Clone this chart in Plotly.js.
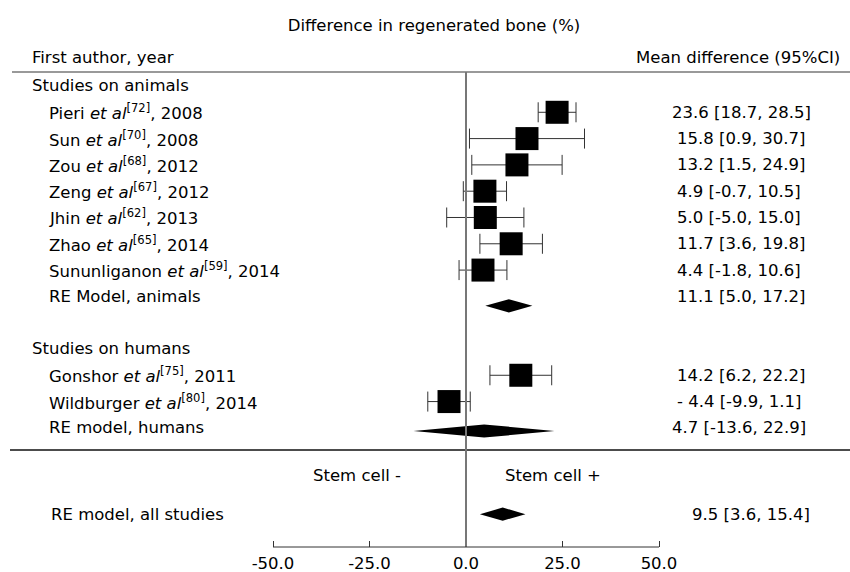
<!DOCTYPE html>
<html>
<head>
<meta charset="utf-8">
<script src="https://cdn.plot.ly/plotly-3.0.1.min.js"></script>
<style>html,body{margin:0;padding:0;background:#fff;}#chart{width:850px;height:572px;}</style>
</head>
<body>
<div id="chart"></div>
<script>
// ---- data ----
const studyLabels = [
  'Pieri <i>et al</i><sup>[72]</sup>, 2008',
  'Sun <i>et al</i><sup>[70]</sup>, 2008',
  'Zou <i>et al</i><sup>[68]</sup>, 2012',
  'Zeng <i>et al</i><sup>[67]</sup>, 2012',
  'Jhin <i>et al</i><sup>[62]</sup>, 2013',
  'Zhao <i>et al</i><sup>[65]</sup>, 2014',
  'Sununliganon <i>et al</i><sup>[59]</sup>, 2014',
  'Gonshor <i>et al</i><sup>[75]</sup>, 2011',
  'Wildburger <i>et al</i><sup>[80]</sup>, 2014'
];
const studyEst = [23.6, 15.8, 13.2, 4.9, 5.0, 11.7, 4.4, 14.2, -4.4];
const studyLo  = [18.7, 0.9, 1.5, -0.7, -5.0, 3.6, -1.8, 6.2, -9.9];
const studyHi  = [28.5, 30.7, 24.9, 10.5, 15.0, 19.8, 10.6, 22.2, 1.1];
const studyCI  = ['23.6 [18.7, 28.5]', '15.8 [0.9, 30.7]', '13.2 [1.5, 24.9]', '4.9 [-0.7, 10.5]',
                  '5.0 [-5.0, 15.0]', '11.7 [3.6, 19.8]', '4.4 [-1.8, 10.6]', '14.2 [6.2, 22.2]',
                  '- 4.4 [-9.9, 1.1]'];
const studyRows = [1, 2, 3, 4, 5, 6, 7, 11, 12];

const summaryLabels = ['RE Model, animals', 'RE model, humans', 'RE model, all studies'];
const summaryEst = [11.1, 4.7, 9.5];
const summaryLo  = [5.0, -13.6, 3.6];
const summaryHi  = [17.2, 22.9, 15.4];
const summaryCI  = ['11.1 [5.0, 17.2]', '4.7 [-13.6, 22.9]', '9.5 [3.6, 15.4]'];
const summaryRows = [8, 13, 16.3];
const summaryMarkRows = [8.36, 13.12, 16.28];

const groupLabels = ['Studies on animals', 'Studies on humans'];
const groupRows = [0, 10];

const tickVals = [-50, -25, 0, 25, 50];
const tickText = ['-50.0', '-25.0', '0.0', '25.0', '50.0'];

// ---- layout helpers ----
const W = 850;
const px = v => v / W;
const FONT = 'DejaVu Sans, Verdana, sans-serif';
const FS = 16.5;

const traces = [];
traces.push({
  type: 'scatter', mode: 'markers',
  x: studyEst, y: studyRows,
  marker: {symbol: 'square', size: 23, color: '#000', line: {width: 0}},
  error_x: {
    type: 'data', symmetric: false,
    array: studyHi.map((h, i) => h - studyEst[i]),
    arrayminus: studyLo.map((l, i) => studyEst[i] - l),
    color: '#333', thickness: 1, width: 10
  },
  hoverinfo: 'skip', showlegend: false
});
const dh = 0.25;
summaryEst.forEach((e, i) => {
  const r = summaryMarkRows[i];
  traces.push({
    type: 'scatter', mode: 'lines',
    x: [summaryLo[i], e, summaryHi[i], e, summaryLo[i]],
    y: [r, r - dh, r, r + dh, r],
    fill: 'toself', fillcolor: '#000', line: {width: 0, color: '#000'},
    hoverinfo: 'skip', showlegend: false
  });
});

const ann = [];
const txt = (text, x, y, anchor, xref) => ({
  text, x, y, xref: xref || 'paper', yref: 'y', xanchor: anchor, yanchor: 'middle',
  showarrow: false, font: {family: FONT, size: FS, color: '#000'}
});
ann.push(txt('First author, year', px(30), -1.1, 'left'));
ann.push(txt('Mean difference (95%CI)', px(842), -1.1, 'right'));
groupLabels.forEach((g, i) => ann.push(txt(g, px(30), groupRows[i], 'left')));
studyLabels.forEach((s, i) => ann.push(txt(s, px(47), studyRows[i], 'left')));
studyCI.forEach((s, i) => ann.push(txt(s, px(i === 0 ? 670 : 675), studyRows[i], 'left')));
summaryLabels.forEach((s, i) => ann.push(txt(s, px(i === 2 ? 49 : 47), summaryRows[i], 'left')));
summaryCI.forEach((s, i) => ann.push(txt(s, px(i === 0 ? 675 : (i === 1 ? 670 : 690)), summaryRows[i], 'left')));
ann.push(txt('Stem cell -', px(357), 14.8, 'center'));
ann.push(txt('Stem cell +', px(553), 14.8, 'center'));

const yTop = -3.27, yBot = 17.53;
const shapes = [
  {type: 'line', xref: 'paper', yref: 'y', x0: px(12), x1: 1, y0: -0.53, y1: -0.53, line: {color: '#777', width: 1.5}},
  {type: 'line', xref: 'paper', yref: 'y', x0: px(10), x1: 1, y0: 13.84, y1: 13.84, line: {color: '#111', width: 1.5}},
  {type: 'line', xref: 'x', yref: 'y', x0: 0, x1: 0, y0: -0.53, y1: yBot, line: {color: '#777', width: 2}},
  {type: 'line', xref: 'x', yref: 'paper', x0: tickVals[0], x1: tickVals[tickVals.length - 1], y0: 0, y1: 0, line: {color: '#333', width: 1}}
];

const layout = {
  width: 850, height: 572,
  margin: {l: 0, r: 0, t: 0, b: 25, pad: 0},
  paper_bgcolor: '#fff', plot_bgcolor: '#fff',
  title: {text: 'Difference in regenerated bone (%)', x: px(434), xanchor: 'center', y: 1 - 25 / 572, yanchor: 'middle',
          font: {family: FONT, size: FS, color: '#000'}},
  xaxis: {range: [-466 / 3.86, (850 - 466) / 3.86], showgrid: false, zeroline: false, showline: false,
          tickvals: tickVals, ticktext: tickText, ticks: 'inside', ticklen: 6, tickcolor: '#333', tickwidth: 1,
          ticklabelstandoff: 4,
          tickfont: {family: FONT, size: FS, color: '#000'}, fixedrange: true},
  yaxis: {range: [yBot, yTop], showgrid: false, zeroline: false, showline: false, showticklabels: false,
          ticks: '', fixedrange: true},
  annotations: ann,
  shapes: shapes,
  showlegend: false
};

Plotly.newPlot('chart', traces, layout, {displayModeBar: false, staticPlot: true});
</script>
</body>
</html>
